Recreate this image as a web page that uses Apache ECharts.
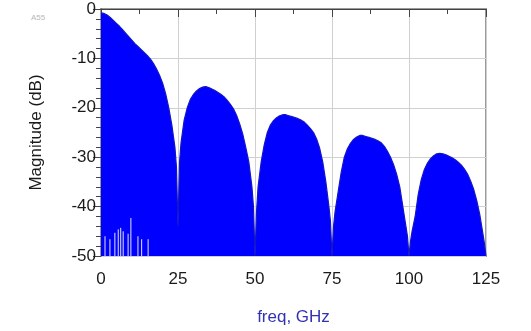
<!DOCTYPE html>
<html>
<head>
<meta charset="utf-8">
<script src="https://cdn.jsdelivr.net/npm/echarts@6/dist/echarts.min.js"></script>
<style>
  html, body { margin: 0; padding: 0; background: #fff; }
  #main { width: 531px; height: 331px; }
  .tag { position: absolute; left: 31px; top: 13px; font: 8px 'Liberation Sans', Arial, sans-serif; color: #b8b8b8; }
</style>
</head>
<body>
<div class="tag">A55</div>
<div id="main"></div>
<script>
// spectrum envelope (freq in GHz, magnitude in dB)
var freqs = [
  0, 1, 2, 3, 4, 5, 6, 7, 8, 9, 10, 11, 12, 13, 14, 15, 16, 17, 18, 19, 20, 21, 22, 23, 24, 24.5,
  25, 25.5, 26, 27, 28, 29, 30, 31, 32, 33, 34, 35, 36, 37, 38, 39, 40, 41, 42, 43, 44, 45, 46, 47, 48, 49, 49.5,
  50, 50.5, 51, 52, 53, 54, 55, 56, 57, 58, 59, 60, 61, 62, 63, 64, 65, 66, 67, 68, 69, 70, 71, 72, 73, 74, 74.5,
  75, 75.5, 76, 77, 78, 79, 80, 81, 82, 83, 84, 85, 86, 87, 88, 89, 90, 91, 92, 93, 94, 95, 96, 97, 98, 99, 99.5,
  100, 100.5, 101, 102, 103, 104, 105, 106, 107, 108, 109, 110, 111, 112, 113, 114, 115, 116, 117, 118, 119, 120, 121, 122, 123, 124, 124.5,
  125
]
var mags = [
  -0.8, -0.9, -1.2, -1.7, -2.3, -2.9, -3.5, -4.2, -4.9, -5.6, -6.3, -7.0, -7.6, -8.2, -8.8, -9.4, -10.1, -11.0, -12.1, -13.4, -15.0, -17.2, -20.0, -23.5, -28, -32,
  -44, -31, -27, -22.5, -20, -18.3, -17.3, -16.6, -16.1, -15.8, -15.7, -15.9, -16.2, -16.5, -16.9, -17.3, -17.8, -18.5, -19.3, -20.2, -21.5, -23.2, -25.3, -28, -31, -36, -40,
  -50, -41, -36, -31, -27.5, -25, -23.5, -22.6, -22.0, -21.6, -21.4, -21.4, -21.6, -21.8, -22.0, -22.2, -22.5, -22.9, -23.5, -24.2, -25.0, -26.3, -28.2, -31, -35, -40, -43,
  -50, -44, -41, -37, -33, -30, -28.3, -27.2, -26.4, -25.9, -25.6, -25.6, -25.8, -26.0, -26.2, -26.4, -26.7, -27.1, -27.8, -28.8, -30, -31.5, -33.5, -36, -40, -44, -46,
  -50, -47, -45, -42, -37.5, -34.5, -32.5, -31.2, -30.3, -29.7, -29.3, -29.2, -29.3, -29.5, -29.8, -30.1, -30.5, -31.0, -31.6, -32.4, -33.4, -34.8, -36.5, -38.8, -41.7, -45.5, -47.5,
  -50
]

// thin gaps between low-frequency lines near the floor
var gapFreqs = [1.3, 2.9, 4.5, 5.6, 6.4, 7.2, 8.8, 9.7, 12.0, 13.2, 15.3]
var gapTops = [-46, -46.6, -45.3, -44.6, -44.3, -45, -45.5, -42.3, -46, -46.6, -46.6]

var xTicks = [0, 25, 50, 75, 100, 125]
var yTicks = [0, -10, -20, -30, -40, -50]

var chartObj = echarts.init(document.getElementById('main'))

var spectrum = freqs.map(function (f, i) { return [f, mags[i]] })
var gaps = gapFreqs.map(function (f, i) { return [f, gapTops[i]] })

var font = "'Liberation Sans', Arial, sans-serif"

var option = {
  animation: false,
  grid: {
    left: 101,
    right: 45,
    top: 9,
    bottom: 69,
    show: true,
    borderColor: '#9a9a9a',
    borderWidth: 2
  },
  xAxis: {
    type: 'value',
    min: xTicks[0],
    max: xTicks[xTicks.length - 1],
    interval: 25,
    name: 'freq, GHz',
    nameLocation: 'middle',
    nameGap: 53,
    nameTextStyle: { color: '#3232b4', fontSize: 17, fontFamily: font },
    axisLine: { lineStyle: { color: '#444', width: 1 } },
    axisTick: { show: true, length: 8, lineStyle: { color: '#444' } },
    minorTick: { show: true, splitNumber: 2, length: 5, lineStyle: { color: '#444' } },
    axisLabel: { color: '#1a1a1a', fontSize: 17, fontFamily: font, margin: 15 },
    splitLine: { show: true, lineStyle: { color: '#d0d0d0', width: 1 } }
  },
  yAxis: {
    type: 'value',
    min: yTicks[yTicks.length - 1],
    max: yTicks[0],
    interval: 10,
    name: 'Magnitude (dB)',
    nameLocation: 'middle',
    nameGap: 56,
    nameTextStyle: { color: '#1a1a1a', fontSize: 17, fontFamily: font },
    axisLine: { show: true, lineStyle: { color: '#444', width: 1 } },
    axisTick: { show: true, length: 8, lineStyle: { color: '#444' } },
    minorTick: { show: true, splitNumber: 5, length: 5, lineStyle: { color: '#444' } },
    axisLabel: { color: '#1a1a1a', fontSize: 17, fontFamily: font, margin: 5 },
    splitLine: { show: true, lineStyle: { color: '#d0d0d0', width: 1 } }
  },
  series: [
    {
      name: 'spectrum',
      type: 'line',
      data: spectrum,
      showSymbol: false,
      lineStyle: { color: '#1414c8', width: 1.2 },
      areaStyle: { color: '#0000ff', opacity: 1, origin: 'start' },
      z: 3
    },
    {
      name: 'gaps',
      type: 'custom',
      data: gaps,
      renderItem: function (params, api) {
        var p0 = api.coord([api.value(0), -50])
        var p1 = api.coord([api.value(0), api.value(1)])
        return {
          type: 'line',
          shape: { x1: p0[0], y1: p0[1], x2: p1[0], y2: p1[1] },
          style: { stroke: '#e4e4ff', lineWidth: 1 }
        }
      },
      z: 4
    }
  ]
}

chartObj.setOption(option, true)
</script>
</body>
</html>
